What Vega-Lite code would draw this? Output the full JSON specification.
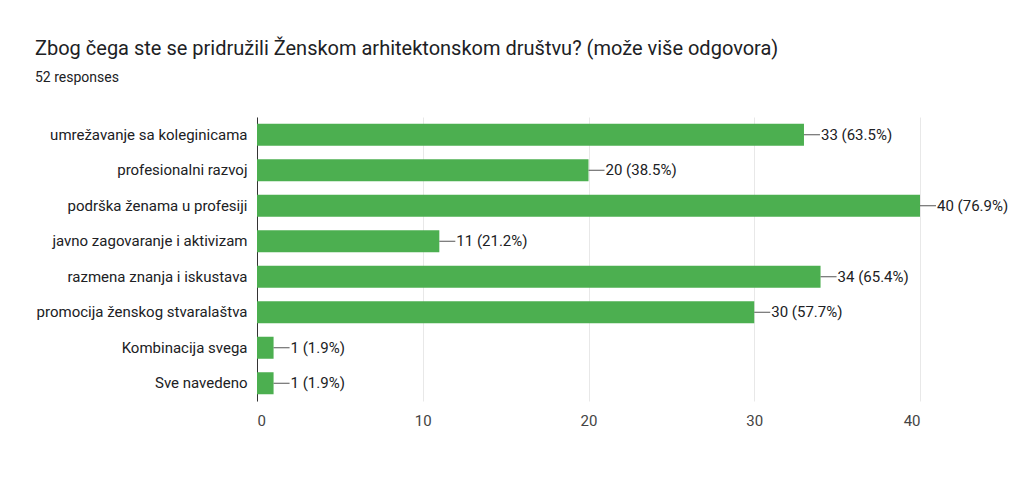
{
  "$schema": "https://vega.github.io/schema/vega-lite/v6.json",
  "autosize": "none",
  "width": 663,
  "height": 284,
  "padding": {"left": 257, "top": 117, "right": 104, "bottom": 85},
  "background": "white",
  "title": {
    "text": "Zbog čega ste se pridružili Ženskom arhitektonskom društvu? (može više odgovora)",
    "subtitle": "52 responses",
    "anchor": "start",
    "frame": "group",
    "dx": -222,
    "offset": 32,
    "font": "Roboto",
    "fontSize": 20,
    "fontWeight": "normal",
    "color": "#202124",
    "subtitleFont": "Roboto",
    "subtitleFontSize": 14,
    "subtitleColor": "#202124",
    "subtitlePadding": 12
  },
  "config": {"view": {"stroke": null}},
  "data": {
    "values": [
      {"option": "umrežavanje sa koleginicama", "count": 33, "label": "33 (63.5%)"},
      {"option": "profesionalni razvoj", "count": 20, "label": "20 (38.5%)"},
      {"option": "podrška ženama u profesiji", "count": 40, "label": "40 (76.9%)"},
      {"option": "javno zagovaranje i aktivizam", "count": 11, "label": "11 (21.2%)"},
      {"option": "razmena znanja i iskustava", "count": 34, "label": "34 (65.4%)"},
      {"option": "promocija ženskog stvaralaštva", "count": 30, "label": "30 (57.7%)"},
      {"option": "Kombinacija svega", "count": 1, "label": "1 (1.9%)"},
      {"option": "Sve navedeno", "count": 1, "label": "1 (1.9%)"}
    ]
  },
  "encoding": {
    "y": {
      "field": "option", "type": "nominal", "sort": null, "title": null,
      "scale": {"paddingInner": 0.38, "paddingOuter": 0.19},
      "axis": {"labelFont": "Roboto", "labelFontSize": 15, "labelColor": "#202124",
               "ticks": false, "labelPadding": 10, "domainColor": "#333", "labelLimit": 300}
    }
  },
  "layer": [
    {
      "mark": {"type": "bar", "color": "#4caf50"},
      "encoding": {
        "x": {
          "field": "count", "type": "quantitative", "title": null,
          "scale": {"domain": [0, 40], "nice": false},
          "axis": {"values": [0, 10, 20, 30, 40], "labelFont": "Roboto", "labelFontSize": 15,
                   "labelColor": "#444", "ticks": false, "domain": false, "gridColor": "#e8e8e8",
                   "labelPadding": 12}
        }
      }
    },
    {
      "mark": {"type": "rule", "color": "#555", "x2Offset": 16},
      "encoding": {"x": {"field": "count", "type": "quantitative"}, "x2": {"field": "count"}}
    },
    {
      "mark": {"type": "text", "align": "left", "dx": 17, "font": "Roboto", "fontSize": 15, "color": "#202124"},
      "encoding": {"x": {"field": "count", "type": "quantitative"}, "text": {"field": "label"}}
    }
  ]
}
